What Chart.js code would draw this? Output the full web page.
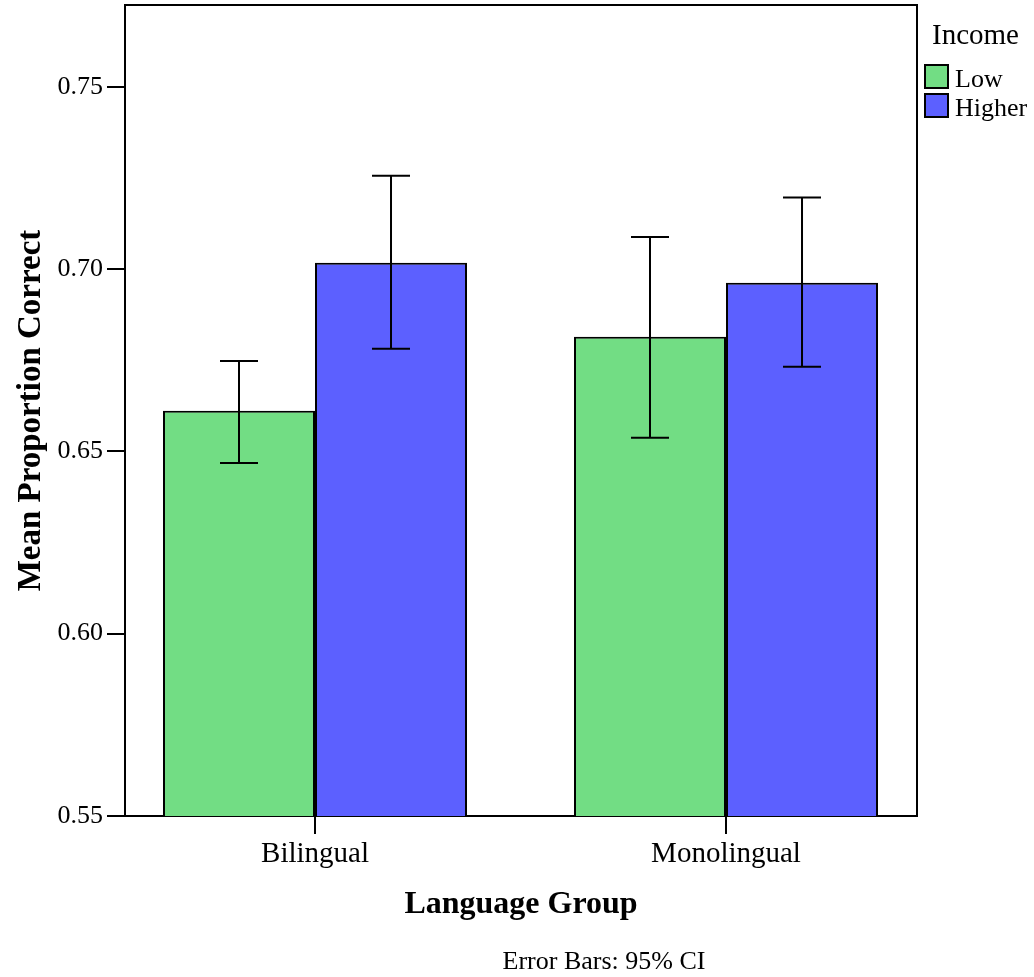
<!DOCTYPE html>
<html>
<head>
<meta charset="utf-8">
<script src="https://cdn.jsdelivr.net/npm/chart.js@4"></script>
<style>
  html, body { margin: 0; padding: 0; background: #fff; }
  canvas { display: block; }
</style>
</head>
<body>
<canvas id="c_bars" width="1034" height="977"></canvas>
<script>
// mean proportion correct by language group and income, 95% CI
const groups = ['Bilingual', 'Monolingual'];
const incomeLevels = ['Low', 'Higher'];
const lowMeans = [0.6611, 0.6814];
const lowCiLower = [0.6468, 0.6537];
const lowCiUpper = [0.6748, 0.7088];
const higherMeans = [0.7017, 0.6962];
const higherCiLower = [0.6781, 0.6732];
const higherCiUpper = [0.7256, 0.7196];
const yTicks = [0.55, 0.60, 0.65, 0.70, 0.75];

const SERIF = '"Liberation Serif", "Times New Roman", serif';
const colors = ['#72dd84', '#5c60ff'];
const ciLo = [lowCiLower, higherCiLower];
const ciHi = [lowCiUpper, higherCiUpper];

const errorBars = {
  id: 'errorBars',
  afterDatasetsDraw(chart) {
    const { ctx, scales: { y } } = chart;
    ctx.save();
    ctx.strokeStyle = '#000';
    ctx.lineWidth = 2;
    chart.data.datasets.forEach((ds, di) => {
      chart.getDatasetMeta(di).data.forEach((bar, i) => {
        const yl = y.getPixelForValue(ciLo[di][i]);
        const yh = y.getPixelForValue(ciHi[di][i]);
        const x = bar.x, cap = 19;
        ctx.beginPath();
        ctx.moveTo(x, yl); ctx.lineTo(x, yh);
        ctx.moveTo(x - cap, yl); ctx.lineTo(x + cap, yl);
        ctx.moveTo(x - cap, yh); ctx.lineTo(x + cap, yh);
        ctx.stroke();
      });
    });
    ctx.restore();
  },
};

const frameAndLegend = {
  id: 'frameAndLegend',
  afterDraw(chart) {
    const { ctx, chartArea: a } = chart;
    ctx.save();
    ctx.strokeStyle = '#000';
    ctx.lineWidth = 2;
    ctx.beginPath();
    ctx.moveTo(a.left, a.top); ctx.lineTo(a.right, a.top); ctx.lineTo(a.right, a.bottom);
    ctx.stroke();

    ctx.fillStyle = '#000';
    ctx.textBaseline = 'alphabetic';
    ctx.textAlign = 'left';
    ctx.font = '29px ' + SERIF;
    ctx.fillText('Income', 932, 44);
    ctx.font = '26px ' + SERIF;
    incomeLevels.forEach((lab, i) => {
      const top = 65 + i * 29;
      ctx.fillStyle = colors[i];
      ctx.fillRect(925, top, 23, 23);
      ctx.strokeRect(925, top, 23, 23);
      ctx.fillStyle = '#000';
      ctx.fillText(lab, 955, top + 22);
    });

    ctx.textAlign = 'center';
    ctx.font = '26px ' + SERIF;
    ctx.fillText('Error Bars: 95% CI', 604, 969);
    ctx.restore();
  },
};

const axisLine = { display: true, color: '#000', width: 2 };
const tickMarks = { drawOnChartArea: false, drawTicks: true, tickLength: 18, color: '#000', lineWidth: 2, offset: false };

const noPad = s => { s.paddingTop = 0; s.paddingBottom = 0; s.paddingLeft = 0; s.paddingRight = 0; };

new Chart(document.getElementById('c_bars'), {
  type: 'bar',
  data: {
    datasets: [
      { label: incomeLevels[0], data: lowMeans.map((v, i) => ({ x: i, y: v })), backgroundColor: colors[0] },
      { label: incomeLevels[1], data: higherMeans.map((v, i) => ({ x: i, y: v })), backgroundColor: colors[1] },
    ],
  },
  options: {
    responsive: false,
    animation: false,
    layout: { padding: { top: 5, right: 117, left: 0, bottom: 0 } },
    datasets: {
      bar: {
        borderColor: '#000',
        borderWidth: 2,
        categoryPercentage: 0.7397,
        barPercentage: 1,
      },
    },
    plugins: { legend: { display: false }, tooltip: { enabled: false } },
    scales: {
      x: {
        type: 'linear',
        min: -0.4623,
        max: 1.4647,
        offset: false,
        afterBuildTicks: s => { s.ticks = groups.map((_, i) => ({ value: i })); },
        afterFit: s => { s.height = 161; noPad(s); },
        border: axisLine,
        grid: tickMarks,
        ticks: {
          color: '#000',
          padding: 3,
          font: { family: SERIF, size: 29 },
          maxRotation: 0,
          callback: v => groups[v],
        },
        title: {
          display: true,
          text: 'Language Group',
          color: '#000',
          font: { family: SERIF, size: 32, weight: 'bold' },
          padding: { top: 0, bottom: 53 },
        },
      },
      y: {
        min: 0.55,
        max: 0.7724,
        afterBuildTicks: s => { s.ticks = yTicks.map(v => ({ value: v })); },
        afterFit: s => { s.width = 125; noPad(s); },
        border: axisLine,
        grid: tickMarks,
        ticks: {
          color: '#000',
          padding: 4,
          font: { family: SERIF, size: 26 },
          callback: v => v.toFixed(2),
        },
        title: {
          display: true,
          text: 'Mean Proportion Correct',
          color: '#000',
          font: { family: SERIF, size: 33, weight: 'bold' },
          padding: { top: 12, bottom: 0 },
        },
      },
    },
  },
  plugins: [errorBars, frameAndLegend],
});
</script>
</body>
</html>
